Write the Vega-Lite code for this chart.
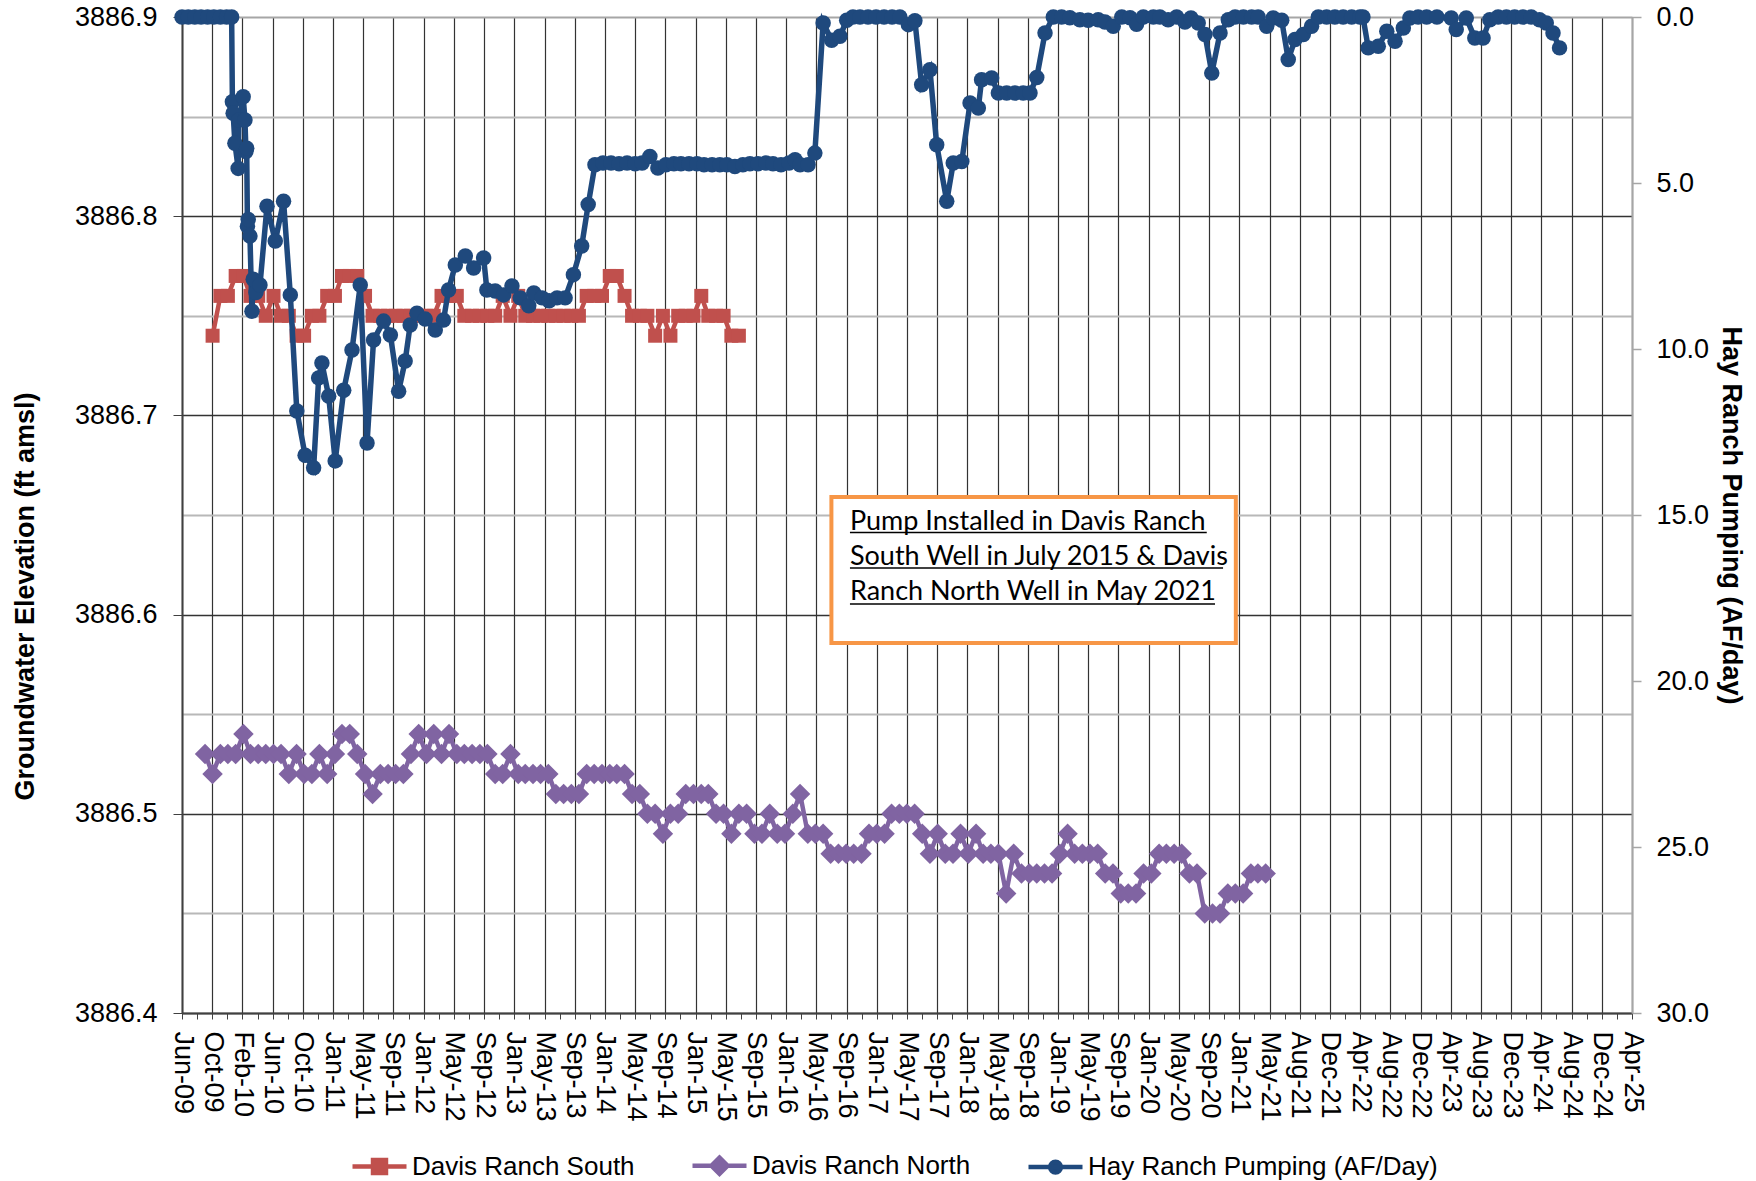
{
"$schema": "https://vega.github.io/schema/vega-lite/v6.json",
"width": 1450, "height": 996, "autosize": "none",
"padding": {"left": 182, "top": 17, "right": 124, "bottom": 168},
"config": {"view": {"stroke": null}, "font": "Liberation Sans"},
"datasets": {
"levels": [
{"series":"Davis Ranch South","date":"2009-10-15","value":3886.74},{"series":"Davis Ranch South","date":"2009-11-15","value":3886.76},{"series":"Davis Ranch South","date":"2009-12-15","value":3886.76},{"series":"Davis Ranch South","date":"2010-01-15","value":3886.77},{"series":"Davis Ranch South","date":"2010-02-15","value":3886.77},{"series":"Davis Ranch South","date":"2010-03-15","value":3886.76},{"series":"Davis Ranch South","date":"2010-04-15","value":3886.76},{"series":"Davis Ranch South","date":"2010-05-15","value":3886.75},{"series":"Davis Ranch South","date":"2010-06-15","value":3886.76},{"series":"Davis Ranch South","date":"2010-07-15","value":3886.75},{"series":"Davis Ranch South","date":"2010-08-15","value":3886.75},{"series":"Davis Ranch South","date":"2010-09-15","value":3886.74},{"series":"Davis Ranch South","date":"2010-10-15","value":3886.74},{"series":"Davis Ranch South","date":"2010-11-15","value":3886.75},{"series":"Davis Ranch South","date":"2010-12-15","value":3886.75},{"series":"Davis Ranch South","date":"2011-01-15","value":3886.76},{"series":"Davis Ranch South","date":"2011-02-15","value":3886.76},{"series":"Davis Ranch South","date":"2011-03-15","value":3886.77},{"series":"Davis Ranch South","date":"2011-04-15","value":3886.77},{"series":"Davis Ranch South","date":"2011-05-15","value":3886.77},{"series":"Davis Ranch South","date":"2011-06-15","value":3886.76},{"series":"Davis Ranch South","date":"2011-07-15","value":3886.75},{"series":"Davis Ranch South","date":"2011-08-15","value":3886.75},{"series":"Davis Ranch South","date":"2011-09-15","value":3886.75},{"series":"Davis Ranch South","date":"2011-10-15","value":3886.75},{"series":"Davis Ranch South","date":"2011-11-15","value":3886.75},{"series":"Davis Ranch South","date":"2011-12-15","value":3886.75},{"series":"Davis Ranch South","date":"2012-01-15","value":3886.75},{"series":"Davis Ranch South","date":"2012-02-15","value":3886.75},{"series":"Davis Ranch South","date":"2012-03-15","value":3886.75},{"series":"Davis Ranch South","date":"2012-04-15","value":3886.76},{"series":"Davis Ranch South","date":"2012-05-15","value":3886.76},{"series":"Davis Ranch South","date":"2012-06-15","value":3886.76},{"series":"Davis Ranch South","date":"2012-07-15","value":3886.75},{"series":"Davis Ranch South","date":"2012-08-15","value":3886.75},{"series":"Davis Ranch South","date":"2012-09-15","value":3886.75},{"series":"Davis Ranch South","date":"2012-10-15","value":3886.75},{"series":"Davis Ranch South","date":"2012-11-15","value":3886.75},{"series":"Davis Ranch South","date":"2012-12-15","value":3886.76},{"series":"Davis Ranch South","date":"2013-01-15","value":3886.75},{"series":"Davis Ranch South","date":"2013-02-15","value":3886.76},{"series":"Davis Ranch South","date":"2013-03-15","value":3886.75},{"series":"Davis Ranch South","date":"2013-04-15","value":3886.75},{"series":"Davis Ranch South","date":"2013-05-15","value":3886.75},{"series":"Davis Ranch South","date":"2013-06-15","value":3886.75},{"series":"Davis Ranch South","date":"2013-07-15","value":3886.75},{"series":"Davis Ranch South","date":"2013-08-15","value":3886.75},{"series":"Davis Ranch South","date":"2013-09-15","value":3886.75},{"series":"Davis Ranch South","date":"2013-10-15","value":3886.75},{"series":"Davis Ranch South","date":"2013-11-15","value":3886.76},{"series":"Davis Ranch South","date":"2013-12-15","value":3886.76},{"series":"Davis Ranch South","date":"2014-01-15","value":3886.76},{"series":"Davis Ranch South","date":"2014-02-15","value":3886.77},{"series":"Davis Ranch South","date":"2014-03-15","value":3886.77},{"series":"Davis Ranch South","date":"2014-04-15","value":3886.76},{"series":"Davis Ranch South","date":"2014-05-15","value":3886.75},{"series":"Davis Ranch South","date":"2014-06-15","value":3886.75},{"series":"Davis Ranch South","date":"2014-07-15","value":3886.75},{"series":"Davis Ranch South","date":"2014-08-15","value":3886.74},{"series":"Davis Ranch South","date":"2014-09-15","value":3886.75},{"series":"Davis Ranch South","date":"2014-10-15","value":3886.74},{"series":"Davis Ranch South","date":"2014-11-15","value":3886.75},{"series":"Davis Ranch South","date":"2014-12-15","value":3886.75},{"series":"Davis Ranch South","date":"2015-01-15","value":3886.75},{"series":"Davis Ranch South","date":"2015-02-15","value":3886.76},{"series":"Davis Ranch South","date":"2015-03-15","value":3886.75},{"series":"Davis Ranch South","date":"2015-04-15","value":3886.75},{"series":"Davis Ranch South","date":"2015-05-15","value":3886.75},{"series":"Davis Ranch South","date":"2015-06-15","value":3886.74},{"series":"Davis Ranch South","date":"2015-07-15","value":3886.74},
{"series":"Davis Ranch North","date":"2009-09-15","value":3886.53},{"series":"Davis Ranch North","date":"2009-10-15","value":3886.52},{"series":"Davis Ranch North","date":"2009-11-15","value":3886.53},{"series":"Davis Ranch North","date":"2009-12-15","value":3886.53},{"series":"Davis Ranch North","date":"2010-01-15","value":3886.53},{"series":"Davis Ranch North","date":"2010-02-15","value":3886.54},{"series":"Davis Ranch North","date":"2010-03-15","value":3886.53},{"series":"Davis Ranch North","date":"2010-04-15","value":3886.53},{"series":"Davis Ranch North","date":"2010-05-15","value":3886.53},{"series":"Davis Ranch North","date":"2010-06-15","value":3886.53},{"series":"Davis Ranch North","date":"2010-07-15","value":3886.53},{"series":"Davis Ranch North","date":"2010-08-15","value":3886.52},{"series":"Davis Ranch North","date":"2010-09-15","value":3886.53},{"series":"Davis Ranch North","date":"2010-10-15","value":3886.52},{"series":"Davis Ranch North","date":"2010-11-15","value":3886.52},{"series":"Davis Ranch North","date":"2010-12-15","value":3886.53},{"series":"Davis Ranch North","date":"2011-01-15","value":3886.52},{"series":"Davis Ranch North","date":"2011-02-15","value":3886.53},{"series":"Davis Ranch North","date":"2011-03-15","value":3886.54},{"series":"Davis Ranch North","date":"2011-04-15","value":3886.54},{"series":"Davis Ranch North","date":"2011-05-15","value":3886.53},{"series":"Davis Ranch North","date":"2011-06-15","value":3886.52},{"series":"Davis Ranch North","date":"2011-07-15","value":3886.51},{"series":"Davis Ranch North","date":"2011-08-15","value":3886.52},{"series":"Davis Ranch North","date":"2011-09-15","value":3886.52},{"series":"Davis Ranch North","date":"2011-10-15","value":3886.52},{"series":"Davis Ranch North","date":"2011-11-15","value":3886.52},{"series":"Davis Ranch North","date":"2011-12-15","value":3886.53},{"series":"Davis Ranch North","date":"2012-01-15","value":3886.54},{"series":"Davis Ranch North","date":"2012-02-15","value":3886.53},{"series":"Davis Ranch North","date":"2012-03-15","value":3886.54},{"series":"Davis Ranch North","date":"2012-04-15","value":3886.53},{"series":"Davis Ranch North","date":"2012-05-15","value":3886.54},{"series":"Davis Ranch North","date":"2012-06-15","value":3886.53},{"series":"Davis Ranch North","date":"2012-07-15","value":3886.53},{"series":"Davis Ranch North","date":"2012-08-15","value":3886.53},{"series":"Davis Ranch North","date":"2012-09-15","value":3886.53},{"series":"Davis Ranch North","date":"2012-10-15","value":3886.53},{"series":"Davis Ranch North","date":"2012-11-15","value":3886.52},{"series":"Davis Ranch North","date":"2012-12-15","value":3886.52},{"series":"Davis Ranch North","date":"2013-01-15","value":3886.53},{"series":"Davis Ranch North","date":"2013-02-15","value":3886.52},{"series":"Davis Ranch North","date":"2013-03-15","value":3886.52},{"series":"Davis Ranch North","date":"2013-04-15","value":3886.52},{"series":"Davis Ranch North","date":"2013-05-15","value":3886.52},{"series":"Davis Ranch North","date":"2013-06-15","value":3886.52},{"series":"Davis Ranch North","date":"2013-07-15","value":3886.51},{"series":"Davis Ranch North","date":"2013-08-15","value":3886.51},{"series":"Davis Ranch North","date":"2013-09-15","value":3886.51},{"series":"Davis Ranch North","date":"2013-10-15","value":3886.51},{"series":"Davis Ranch North","date":"2013-11-15","value":3886.52},{"series":"Davis Ranch North","date":"2013-12-15","value":3886.52},{"series":"Davis Ranch North","date":"2014-01-15","value":3886.52},{"series":"Davis Ranch North","date":"2014-02-15","value":3886.52},{"series":"Davis Ranch North","date":"2014-03-15","value":3886.52},{"series":"Davis Ranch North","date":"2014-04-15","value":3886.52},{"series":"Davis Ranch North","date":"2014-05-15","value":3886.51},{"series":"Davis Ranch North","date":"2014-06-15","value":3886.51},{"series":"Davis Ranch North","date":"2014-07-15","value":3886.50},{"series":"Davis Ranch North","date":"2014-08-15","value":3886.50},{"series":"Davis Ranch North","date":"2014-09-15","value":3886.49},{"series":"Davis Ranch North","date":"2014-10-15","value":3886.50},{"series":"Davis Ranch North","date":"2014-11-15","value":3886.50},{"series":"Davis Ranch North","date":"2014-12-15","value":3886.51},{"series":"Davis Ranch North","date":"2015-01-15","value":3886.51},{"series":"Davis Ranch North","date":"2015-02-15","value":3886.51},{"series":"Davis Ranch North","date":"2015-03-15","value":3886.51},{"series":"Davis Ranch North","date":"2015-04-15","value":3886.50},{"series":"Davis Ranch North","date":"2015-05-15","value":3886.50},{"series":"Davis Ranch North","date":"2015-06-15","value":3886.49},{"series":"Davis Ranch North","date":"2015-07-15","value":3886.50},{"series":"Davis Ranch North","date":"2015-08-15","value":3886.50},{"series":"Davis Ranch North","date":"2015-09-15","value":3886.49},{"series":"Davis Ranch North","date":"2015-10-15","value":3886.49},{"series":"Davis Ranch North","date":"2015-11-15","value":3886.50},{"series":"Davis Ranch North","date":"2015-12-15","value":3886.49},{"series":"Davis Ranch North","date":"2016-01-15","value":3886.49},{"series":"Davis Ranch North","date":"2016-02-15","value":3886.50},{"series":"Davis Ranch North","date":"2016-03-15","value":3886.51},{"series":"Davis Ranch North","date":"2016-04-15","value":3886.49},{"series":"Davis Ranch North","date":"2016-05-15","value":3886.49},{"series":"Davis Ranch North","date":"2016-06-15","value":3886.49},{"series":"Davis Ranch North","date":"2016-07-15","value":3886.48},{"series":"Davis Ranch North","date":"2016-08-15","value":3886.48},{"series":"Davis Ranch North","date":"2016-09-15","value":3886.48},{"series":"Davis Ranch North","date":"2016-10-15","value":3886.48},{"series":"Davis Ranch North","date":"2016-11-15","value":3886.48},{"series":"Davis Ranch North","date":"2016-12-15","value":3886.49},{"series":"Davis Ranch North","date":"2017-01-15","value":3886.49},{"series":"Davis Ranch North","date":"2017-02-15","value":3886.49},{"series":"Davis Ranch North","date":"2017-03-15","value":3886.50},{"series":"Davis Ranch North","date":"2017-04-15","value":3886.50},{"series":"Davis Ranch North","date":"2017-05-15","value":3886.50},{"series":"Davis Ranch North","date":"2017-06-15","value":3886.50},{"series":"Davis Ranch North","date":"2017-07-15","value":3886.49},{"series":"Davis Ranch North","date":"2017-08-15","value":3886.48},{"series":"Davis Ranch North","date":"2017-09-15","value":3886.49},{"series":"Davis Ranch North","date":"2017-10-15","value":3886.48},{"series":"Davis Ranch North","date":"2017-11-15","value":3886.48},{"series":"Davis Ranch North","date":"2017-12-15","value":3886.49},{"series":"Davis Ranch North","date":"2018-01-15","value":3886.48},{"series":"Davis Ranch North","date":"2018-02-15","value":3886.49},{"series":"Davis Ranch North","date":"2018-03-15","value":3886.48},{"series":"Davis Ranch North","date":"2018-04-15","value":3886.48},{"series":"Davis Ranch North","date":"2018-05-15","value":3886.48},{"series":"Davis Ranch North","date":"2018-06-15","value":3886.46},{"series":"Davis Ranch North","date":"2018-07-15","value":3886.48},{"series":"Davis Ranch North","date":"2018-08-15","value":3886.47},{"series":"Davis Ranch North","date":"2018-09-15","value":3886.47},{"series":"Davis Ranch North","date":"2018-10-15","value":3886.47},{"series":"Davis Ranch North","date":"2018-11-15","value":3886.47},{"series":"Davis Ranch North","date":"2018-12-15","value":3886.47},{"series":"Davis Ranch North","date":"2019-01-15","value":3886.48},{"series":"Davis Ranch North","date":"2019-02-15","value":3886.49},{"series":"Davis Ranch North","date":"2019-03-15","value":3886.48},{"series":"Davis Ranch North","date":"2019-04-15","value":3886.48},{"series":"Davis Ranch North","date":"2019-05-15","value":3886.48},{"series":"Davis Ranch North","date":"2019-06-15","value":3886.48},{"series":"Davis Ranch North","date":"2019-07-15","value":3886.47},{"series":"Davis Ranch North","date":"2019-08-15","value":3886.47},{"series":"Davis Ranch North","date":"2019-09-15","value":3886.46},{"series":"Davis Ranch North","date":"2019-10-15","value":3886.46},{"series":"Davis Ranch North","date":"2019-11-15","value":3886.46},{"series":"Davis Ranch North","date":"2019-12-15","value":3886.47},{"series":"Davis Ranch North","date":"2020-01-15","value":3886.47},{"series":"Davis Ranch North","date":"2020-02-15","value":3886.48},{"series":"Davis Ranch North","date":"2020-03-15","value":3886.48},{"series":"Davis Ranch North","date":"2020-04-15","value":3886.48},{"series":"Davis Ranch North","date":"2020-05-15","value":3886.48},{"series":"Davis Ranch North","date":"2020-06-15","value":3886.47},{"series":"Davis Ranch North","date":"2020-07-15","value":3886.47},{"series":"Davis Ranch North","date":"2020-08-15","value":3886.45},{"series":"Davis Ranch North","date":"2020-09-15","value":3886.45},{"series":"Davis Ranch North","date":"2020-10-15","value":3886.45},{"series":"Davis Ranch North","date":"2020-11-15","value":3886.46},{"series":"Davis Ranch North","date":"2020-12-15","value":3886.46},{"series":"Davis Ranch North","date":"2021-01-15","value":3886.46},{"series":"Davis Ranch North","date":"2021-02-15","value":3886.47},{"series":"Davis Ranch North","date":"2021-03-15","value":3886.47},{"series":"Davis Ranch North","date":"2021-04-15","value":3886.47},
{"series":"Hay Ranch Pumping (AF/Day)","date":"2009-06-15","value":0},{"series":"Hay Ranch Pumping (AF/Day)","date":"2009-07-10","value":0},{"series":"Hay Ranch Pumping (AF/Day)","date":"2009-08-05","value":0},{"series":"Hay Ranch Pumping (AF/Day)","date":"2009-08-30","value":0},{"series":"Hay Ranch Pumping (AF/Day)","date":"2009-09-25","value":0},{"series":"Hay Ranch Pumping (AF/Day)","date":"2009-10-20","value":0},{"series":"Hay Ranch Pumping (AF/Day)","date":"2009-11-15","value":0},{"series":"Hay Ranch Pumping (AF/Day)","date":"2009-12-10","value":0},{"series":"Hay Ranch Pumping (AF/Day)","date":"2009-12-30","value":0},
{"series":"Hay Ranch Pumping (AF/Day)","date":"2010-01-02","value":2.55},{"series":"Hay Ranch Pumping (AF/Day)","date":"2010-01-05","value":2.9},{"series":"Hay Ranch Pumping (AF/Day)","date":"2010-01-12","value":3.8},{"series":"Hay Ranch Pumping (AF/Day)","date":"2010-01-25","value":4.56},{"series":"Hay Ranch Pumping (AF/Day)","date":"2010-01-28","value":3.1},{"series":"Hay Ranch Pumping (AF/Day)","date":"2010-02-14","value":2.4},{"series":"Hay Ranch Pumping (AF/Day)","date":"2010-02-21","value":3.1},{"series":"Hay Ranch Pumping (AF/Day)","date":"2010-02-25","value":4.05},{"series":"Hay Ranch Pumping (AF/Day)","date":"2010-02-28","value":3.95},{"series":"Hay Ranch Pumping (AF/Day)","date":"2010-03-03","value":6.3},{"series":"Hay Ranch Pumping (AF/Day)","date":"2010-03-06","value":6.1},{"series":"Hay Ranch Pumping (AF/Day)","date":"2010-03-13","value":6.6},{"series":"Hay Ranch Pumping (AF/Day)","date":"2010-03-21","value":8.86},{"series":"Hay Ranch Pumping (AF/Day)","date":"2010-03-26","value":7.9},{"series":"Hay Ranch Pumping (AF/Day)","date":"2010-04-06","value":8.3},{"series":"Hay Ranch Pumping (AF/Day)","date":"2010-04-22","value":8.07},{"series":"Hay Ranch Pumping (AF/Day)","date":"2010-05-20","value":5.7},{"series":"Hay Ranch Pumping (AF/Day)","date":"2010-06-22","value":6.75},{"series":"Hay Ranch Pumping (AF/Day)","date":"2010-07-25","value":5.55},{"series":"Hay Ranch Pumping (AF/Day)","date":"2010-08-21","value":8.37},{"series":"Hay Ranch Pumping (AF/Day)","date":"2010-09-16","value":11.87},{"series":"Hay Ranch Pumping (AF/Day)","date":"2010-10-19","value":13.2},{"series":"Hay Ranch Pumping (AF/Day)","date":"2010-11-22","value":13.58},{"series":"Hay Ranch Pumping (AF/Day)","date":"2010-12-12","value":10.87},{"series":"Hay Ranch Pumping (AF/Day)","date":"2010-12-25","value":10.42},
{"series":"Hay Ranch Pumping (AF/Day)","date":"2011-01-21","value":11.42},{"series":"Hay Ranch Pumping (AF/Day)","date":"2011-02-16","value":13.37},{"series":"Hay Ranch Pumping (AF/Day)","date":"2011-03-22","value":11.24},{"series":"Hay Ranch Pumping (AF/Day)","date":"2011-04-24","value":10.03},{"series":"Hay Ranch Pumping (AF/Day)","date":"2011-05-27","value":8.07},{"series":"Hay Ranch Pumping (AF/Day)","date":"2011-06-23","value":12.83},{"series":"Hay Ranch Pumping (AF/Day)","date":"2011-07-19","value":9.73},{"series":"Hay Ranch Pumping (AF/Day)","date":"2011-08-28","value":9.16},{"series":"Hay Ranch Pumping (AF/Day)","date":"2011-09-24","value":9.58},{"series":"Hay Ranch Pumping (AF/Day)","date":"2011-10-27","value":11.27},{"series":"Hay Ranch Pumping (AF/Day)","date":"2011-11-22","value":10.36},{"series":"Hay Ranch Pumping (AF/Day)","date":"2011-12-12","value":9.28},
{"series":"Hay Ranch Pumping (AF/Day)","date":"2012-01-08","value":8.92},{"series":"Hay Ranch Pumping (AF/Day)","date":"2012-02-10","value":9.1},{"series":"Hay Ranch Pumping (AF/Day)","date":"2012-03-21","value":9.43},{"series":"Hay Ranch Pumping (AF/Day)","date":"2012-04-23","value":9.13},{"series":"Hay Ranch Pumping (AF/Day)","date":"2012-05-13","value":8.22},{"series":"Hay Ranch Pumping (AF/Day)","date":"2012-06-09","value":7.47},{"series":"Hay Ranch Pumping (AF/Day)","date":"2012-07-19","value":7.2},{"series":"Hay Ranch Pumping (AF/Day)","date":"2012-08-21","value":7.56},{"series":"Hay Ranch Pumping (AF/Day)","date":"2012-09-30","value":7.26},{"series":"Hay Ranch Pumping (AF/Day)","date":"2012-10-13","value":8.22},{"series":"Hay Ranch Pumping (AF/Day)","date":"2012-11-15","value":8.25},{"series":"Hay Ranch Pumping (AF/Day)","date":"2012-12-19","value":8.37},
{"series":"Hay Ranch Pumping (AF/Day)","date":"2013-01-21","value":8.1},{"series":"Hay Ranch Pumping (AF/Day)","date":"2013-02-23","value":8.46},{"series":"Hay Ranch Pumping (AF/Day)","date":"2013-03-29","value":8.7},{"series":"Hay Ranch Pumping (AF/Day)","date":"2013-04-18","value":8.31},{"series":"Hay Ranch Pumping (AF/Day)","date":"2013-05-21","value":8.46},{"series":"Hay Ranch Pumping (AF/Day)","date":"2013-06-18","value":8.55},{"series":"Hay Ranch Pumping (AF/Day)","date":"2013-07-20","value":8.46},{"series":"Hay Ranch Pumping (AF/Day)","date":"2013-08-21","value":8.46},{"series":"Hay Ranch Pumping (AF/Day)","date":"2013-09-23","value":7.76},{"series":"Hay Ranch Pumping (AF/Day)","date":"2013-10-26","value":6.9},{"series":"Hay Ranch Pumping (AF/Day)","date":"2013-11-21","value":5.65},{"series":"Hay Ranch Pumping (AF/Day)","date":"2013-12-18","value":4.45},
{"series":"Hay Ranch Pumping (AF/Day)","date":"2014-01-19","value":4.4},{"series":"Hay Ranch Pumping (AF/Day)","date":"2014-02-20","value":4.4},{"series":"Hay Ranch Pumping (AF/Day)","date":"2014-03-24","value":4.42},{"series":"Hay Ranch Pumping (AF/Day)","date":"2014-04-25","value":4.4},{"series":"Hay Ranch Pumping (AF/Day)","date":"2014-05-27","value":4.42},{"series":"Hay Ranch Pumping (AF/Day)","date":"2014-06-24","value":4.4},{"series":"Hay Ranch Pumping (AF/Day)","date":"2014-07-25","value":4.2},{"series":"Hay Ranch Pumping (AF/Day)","date":"2014-08-26","value":4.55},{"series":"Hay Ranch Pumping (AF/Day)","date":"2014-09-27","value":4.45},{"series":"Hay Ranch Pumping (AF/Day)","date":"2014-10-29","value":4.42},{"series":"Hay Ranch Pumping (AF/Day)","date":"2014-11-26","value":4.42},{"series":"Hay Ranch Pumping (AF/Day)","date":"2014-12-28","value":4.42},
{"series":"Hay Ranch Pumping (AF/Day)","date":"2015-01-29","value":4.42},{"series":"Hay Ranch Pumping (AF/Day)","date":"2015-02-26","value":4.45},{"series":"Hay Ranch Pumping (AF/Day)","date":"2015-03-30","value":4.45},{"series":"Hay Ranch Pumping (AF/Day)","date":"2015-04-30","value":4.45},{"series":"Hay Ranch Pumping (AF/Day)","date":"2015-05-28","value":4.45},{"series":"Hay Ranch Pumping (AF/Day)","date":"2015-06-29","value":4.5},{"series":"Hay Ranch Pumping (AF/Day)","date":"2015-07-31","value":4.45},{"series":"Hay Ranch Pumping (AF/Day)","date":"2015-08-28","value":4.42},{"series":"Hay Ranch Pumping (AF/Day)","date":"2015-09-29","value":4.42},{"series":"Hay Ranch Pumping (AF/Day)","date":"2015-10-31","value":4.4},{"series":"Hay Ranch Pumping (AF/Day)","date":"2015-11-28","value":4.42},{"series":"Hay Ranch Pumping (AF/Day)","date":"2015-12-30","value":4.45},
{"series":"Hay Ranch Pumping (AF/Day)","date":"2016-01-31","value":4.4},{"series":"Hay Ranch Pumping (AF/Day)","date":"2016-02-24","value":4.3},{"series":"Hay Ranch Pumping (AF/Day)","date":"2016-03-15","value":4.45},{"series":"Hay Ranch Pumping (AF/Day)","date":"2016-04-16","value":4.45},{"series":"Hay Ranch Pumping (AF/Day)","date":"2016-05-13","value":4.1},{"series":"Hay Ranch Pumping (AF/Day)","date":"2016-06-15","value":0.18},{"series":"Hay Ranch Pumping (AF/Day)","date":"2016-07-19","value":0.7},{"series":"Hay Ranch Pumping (AF/Day)","date":"2016-08-21","value":0.58},{"series":"Hay Ranch Pumping (AF/Day)","date":"2016-09-17","value":0.1},{"series":"Hay Ranch Pumping (AF/Day)","date":"2016-10-12","value":0},{"series":"Hay Ranch Pumping (AF/Day)","date":"2016-11-09","value":0},{"series":"Hay Ranch Pumping (AF/Day)","date":"2016-12-11","value":0},
{"series":"Hay Ranch Pumping (AF/Day)","date":"2017-01-12","value":0},{"series":"Hay Ranch Pumping (AF/Day)","date":"2017-02-13","value":0},{"series":"Hay Ranch Pumping (AF/Day)","date":"2017-03-17","value":0},{"series":"Hay Ranch Pumping (AF/Day)","date":"2017-04-17","value":0},{"series":"Hay Ranch Pumping (AF/Day)","date":"2017-05-21","value":0.23},{"series":"Hay Ranch Pumping (AF/Day)","date":"2017-06-16","value":0.11},{"series":"Hay Ranch Pumping (AF/Day)","date":"2017-07-13","value":2.04},{"series":"Hay Ranch Pumping (AF/Day)","date":"2017-08-15","value":1.59},{"series":"Hay Ranch Pumping (AF/Day)","date":"2017-09-11","value":3.85},{"series":"Hay Ranch Pumping (AF/Day)","date":"2017-10-21","value":5.55},{"series":"Hay Ranch Pumping (AF/Day)","date":"2017-11-16","value":4.4},{"series":"Hay Ranch Pumping (AF/Day)","date":"2017-12-20","value":4.35},
{"series":"Hay Ranch Pumping (AF/Day)","date":"2018-01-22","value":2.59},{"series":"Hay Ranch Pumping (AF/Day)","date":"2018-02-24","value":2.74},{"series":"Hay Ranch Pumping (AF/Day)","date":"2018-03-09","value":1.89},{"series":"Hay Ranch Pumping (AF/Day)","date":"2018-04-18","value":1.84},{"series":"Hay Ranch Pumping (AF/Day)","date":"2018-05-15","value":2.29},{"series":"Hay Ranch Pumping (AF/Day)","date":"2018-06-17","value":2.29},{"series":"Hay Ranch Pumping (AF/Day)","date":"2018-07-20","value":2.29},{"series":"Hay Ranch Pumping (AF/Day)","date":"2018-08-22","value":2.29},{"series":"Hay Ranch Pumping (AF/Day)","date":"2018-09-18","value":2.29},{"series":"Hay Ranch Pumping (AF/Day)","date":"2018-10-15","value":1.82},{"series":"Hay Ranch Pumping (AF/Day)","date":"2018-11-17","value":0.48},{"series":"Hay Ranch Pumping (AF/Day)","date":"2018-12-20","value":0},
{"series":"Hay Ranch Pumping (AF/Day)","date":"2019-01-22","value":0},{"series":"Hay Ranch Pumping (AF/Day)","date":"2019-02-24","value":0.02},{"series":"Hay Ranch Pumping (AF/Day)","date":"2019-04-05","value":0.08},{"series":"Hay Ranch Pumping (AF/Day)","date":"2019-05-08","value":0.1},{"series":"Hay Ranch Pumping (AF/Day)","date":"2019-06-17","value":0.08},{"series":"Hay Ranch Pumping (AF/Day)","date":"2019-07-14","value":0.15},{"series":"Hay Ranch Pumping (AF/Day)","date":"2019-08-16","value":0.28},{"series":"Hay Ranch Pumping (AF/Day)","date":"2019-09-19","value":0},{"series":"Hay Ranch Pumping (AF/Day)","date":"2019-10-22","value":0.02},{"series":"Hay Ranch Pumping (AF/Day)","date":"2019-11-17","value":0.22},{"series":"Hay Ranch Pumping (AF/Day)","date":"2019-12-14","value":0},
{"series":"Hay Ranch Pumping (AF/Day)","date":"2020-01-23","value":0},{"series":"Hay Ranch Pumping (AF/Day)","date":"2020-02-18","value":0},{"series":"Hay Ranch Pumping (AF/Day)","date":"2020-03-22","value":0.08},{"series":"Hay Ranch Pumping (AF/Day)","date":"2020-04-25","value":0},{"series":"Hay Ranch Pumping (AF/Day)","date":"2020-05-28","value":0.15},{"series":"Hay Ranch Pumping (AF/Day)","date":"2020-06-21","value":0.03},{"series":"Hay Ranch Pumping (AF/Day)","date":"2020-07-20","value":0.18},{"series":"Hay Ranch Pumping (AF/Day)","date":"2020-08-16","value":0.53},{"series":"Hay Ranch Pumping (AF/Day)","date":"2020-09-12","value":1.69},{"series":"Hay Ranch Pumping (AF/Day)","date":"2020-10-15","value":0.48},{"series":"Hay Ranch Pumping (AF/Day)","date":"2020-11-17","value":0.08},{"series":"Hay Ranch Pumping (AF/Day)","date":"2020-12-14","value":0},
{"series":"Hay Ranch Pumping (AF/Day)","date":"2021-01-16","value":0},{"series":"Hay Ranch Pumping (AF/Day)","date":"2021-02-18","value":0},{"series":"Hay Ranch Pumping (AF/Day)","date":"2021-03-16","value":0},{"series":"Hay Ranch Pumping (AF/Day)","date":"2021-04-19","value":0.28},{"series":"Hay Ranch Pumping (AF/Day)","date":"2021-05-15","value":0.03},{"series":"Hay Ranch Pumping (AF/Day)","date":"2021-06-18","value":0.1},{"series":"Hay Ranch Pumping (AF/Day)","date":"2021-07-14","value":1.28},{"series":"Hay Ranch Pumping (AF/Day)","date":"2021-08-10","value":0.68},{"series":"Hay Ranch Pumping (AF/Day)","date":"2021-09-12","value":0.53},{"series":"Hay Ranch Pumping (AF/Day)","date":"2021-10-15","value":0.28},{"series":"Hay Ranch Pumping (AF/Day)","date":"2021-11-11","value":0},{"series":"Hay Ranch Pumping (AF/Day)","date":"2021-12-14","value":0},
{"series":"Hay Ranch Pumping (AF/Day)","date":"2022-01-16","value":0},{"series":"Hay Ranch Pumping (AF/Day)","date":"2022-02-18","value":0},{"series":"Hay Ranch Pumping (AF/Day)","date":"2022-03-24","value":0},{"series":"Hay Ranch Pumping (AF/Day)","date":"2022-04-26","value":0},{"series":"Hay Ranch Pumping (AF/Day)","date":"2022-05-08","value":0},{"series":"Hay Ranch Pumping (AF/Day)","date":"2022-05-29","value":0.93},{"series":"Hay Ranch Pumping (AF/Day)","date":"2022-07-08","value":0.88},{"series":"Hay Ranch Pumping (AF/Day)","date":"2022-08-11","value":0.43},{"series":"Hay Ranch Pumping (AF/Day)","date":"2022-09-13","value":0.73},{"series":"Hay Ranch Pumping (AF/Day)","date":"2022-10-16","value":0.33},{"series":"Hay Ranch Pumping (AF/Day)","date":"2022-11-11","value":0.03},{"series":"Hay Ranch Pumping (AF/Day)","date":"2022-12-14","value":0},
{"series":"Hay Ranch Pumping (AF/Day)","date":"2023-01-17","value":0},{"series":"Hay Ranch Pumping (AF/Day)","date":"2023-02-27","value":0},{"series":"Hay Ranch Pumping (AF/Day)","date":"2023-04-25","value":0.03},{"series":"Hay Ranch Pumping (AF/Day)","date":"2023-05-15","value":0.38},{"series":"Hay Ranch Pumping (AF/Day)","date":"2023-06-24","value":0.03},{"series":"Hay Ranch Pumping (AF/Day)","date":"2023-07-28","value":0.63},{"series":"Hay Ranch Pumping (AF/Day)","date":"2023-08-30","value":0.63},{"series":"Hay Ranch Pumping (AF/Day)","date":"2023-09-26","value":0.08},{"series":"Hay Ranch Pumping (AF/Day)","date":"2023-10-29","value":0},{"series":"Hay Ranch Pumping (AF/Day)","date":"2023-12-01","value":0},
{"series":"Hay Ranch Pumping (AF/Day)","date":"2024-01-03","value":0},{"series":"Hay Ranch Pumping (AF/Day)","date":"2024-02-05","value":0},{"series":"Hay Ranch Pumping (AF/Day)","date":"2024-03-09","value":0},{"series":"Hay Ranch Pumping (AF/Day)","date":"2024-04-11","value":0.08},{"series":"Hay Ranch Pumping (AF/Day)","date":"2024-05-08","value":0.18},{"series":"Hay Ranch Pumping (AF/Day)","date":"2024-06-04","value":0.48},{"series":"Hay Ranch Pumping (AF/Day)","date":"2024-06-30","value":0.93}
],
"note": [{"date": "2016-07-18", "end": "2020-12-17", "value": 3886.659, "value2": 3886.5857}],
"noteText": [{"date": "2016-09-30", "value": 3886.6427, "text": "Pump Installed in Davis Ranch\nSouth Well in July 2015 & Davis\nRanch North Well in May 2021"}],
"underline": [
{"date": "2016-09-30", "end": "2020-08-23", "value": 3886.6412},
{"date": "2016-09-30", "end": "2020-10-27", "value": 3886.6234},
{"date": "2016-09-30", "end": "2020-09-25", "value": 3886.6053}
]
},
"data": {"name": "levels"},
"encoding": {
"x": {"field": "date", "type": "temporal",
 "scale": {"type": "utc", "domain": [1245024000000, 1744675200000], "nice": false},
 "axis": {
  "title": null,
  "values": [1245024000000,1250228700000,1255433400000,1260638100000,1265842800000,1271047500000,1276252200000,1281456900000,1286661600000,1291866300000,1297071000000,1302275700000,1307480400000,1312685100000,1317889800000,1323094500000,1328299200000,1333503900000,1338708600000,1343913300000,1349118000000,1354322700000,1359527400000,1364732100000,1369936800000,1375141500000,1380346200000,1385550900000,1390755600000,1395960300000,1401165000000,1406369700000,1411574400000,1416779100000,1421983800000,1427188500000,1432393200000,1437597900000,1442802600000,1448007300000,1453212000000,1458416700000,1463621400000,1468826100000,1474030800000,1479235500000,1484440200000,1489644900000,1494849600000,1500054300000,1505259000000,1510463700000,1515668400000,1520873100000,1526077800000,1531282500000,1536487200000,1541691900000,1546896600000,1552101300000,1557306000000,1562510700000,1567715400000,1572920100000,1578124800000,1583329500000,1588534200000,1593738900000,1598943600000,1604148300000,1609353000000,1614557700000,1619762400000,1624967100000,1630171800000,1635376500000,1640581200000,1645785900000,1650990600000,1656195300000,1661400000000,1666604700000,1671809400000,1677014100000,1682218800000,1687423500000,1692628200000,1697832900000,1703037600000,1708242300000,1713447000000,1718651700000,1723856400000,1729061100000,1734265800000,1739470500000,1744675200000],
  "labelExpr": "round((toNumber(datum.value) - 1245024000000) / 5204700000) % 2 == 1 ? '' : ['Jun-09','Oct-09','Feb-10','Jun-10','Oct-10','Jan-11','May-11','Sep-11','Jan-12','May-12','Sep-12','Jan-13','May-13','Sep-13','Jan-14','May-14','Sep-14','Jan-15','May-15','Sep-15','Jan-16','May-16','Sep-16','Jan-17','May-17','Sep-17','Jan-18','May-18','Sep-18','Jan-19','May-19','Sep-19','Jan-20','May-20','Sep-20','Jan-21','May-21','Aug-21','Dec-21','Apr-22','Aug-22','Dec-22','Apr-23','Aug-23','Dec-23','Apr-24','Aug-24','Dec-24','Apr-25'][round((toNumber(datum.value) - 1245024000000) / 10409400000)]",
  "labelAngle": 90, "labelAlign": "left", "labelBaseline": "middle",
  "labelFont": "Liberation Sans", "labelFontSize": 27, "labelColor": "black", "labelPadding": 12,
  "labelOverlap": false, "labelFlush": false, "labelBound": false,
  "tickSize": 6, "tickColor": "#404040", "tickWidth": 1,
  "domainColor": "#404040", "domainWidth": 2,
  "grid": true, "gridColor": "#333333", "gridWidth": 1.2,
  "gridOpacity": {"condition": {"test": "round((toNumber(datum.value) - 1245024000000) / 5204700000) % 2 == 1", "value": 0}, "value": 1}
 }},
"color": {"field": "series", "type": "nominal",
 "scale": {"domain": ["Davis Ranch South", "Davis Ranch North", "Hay Ranch Pumping (AF/Day)"], "range": ["#C0504D", "#8064A2", "#1F497D"]},
 "legend": {
  "title": null, "orient": "none", "legendX": 168, "legendY": 1119, "direction": "horizontal",
  "padding": 0, "labelFont": "Liberation Sans", "labelFontSize": 26, "labelColor": "black", "labelLimit": 0,
  "labelOffset": 3, "columnPadding": 48, "symbolSize": 2916, "symbolStrokeWidth": 4.5, "symbolOpacity": 1,
  "encode": {"symbols": {"update": {
   "shape": {"signal": "datum.value === 'Davis Ranch South' ? 'M-1,0H1M-0.24,-0.24H0.24V0.24H-0.24Z' : (datum.value === 'Davis Ranch North' ? 'M-1,0H1M0,-0.3L0.3,0L0,0.3L-0.3,0Z' : 'M-1,0H1M-0.2,0A0.2,0.2,0,1,0,0.2,0A0.2,0.2,0,1,0,-0.2,0Z')"},
   "fill": {"scale": "color", "field": "value"},
   "stroke": {"scale": "color", "field": "value"},
   "strokeWidth": {"value": 4.5},
   "opacity": {"value": 1}
  }}}
 }}
},
"layer": [
{
 "transform": [{"filter": "datum.series !== 'Hay Ranch Pumping (AF/Day)'"}],
 "encoding": {"y": {"field": "value", "type": "quantitative",
  "scale": {"domain": [3886.4, 3886.9], "nice": false, "zero": false},
  "axis": {
   "title": "Groundwater Elevation (ft amsl)",
   "titleFont": "Liberation Sans", "titleFontSize": 27, "titleFontWeight": "bold", "titleColor": "black",
   "titleX": -157, "titleY": 579, "titleAlign": "center", "titleBaseline": "middle", "titleAngle": -90,
   "values": [3886.4, 3886.45, 3886.5, 3886.55, 3886.6, 3886.65, 3886.7, 3886.75, 3886.8, 3886.85, 3886.9],
   "labelExpr": "round(datum.value * 20) % 2 == 1 ? '' : format(datum.value, '.1f')",
   "labelFont": "Liberation Sans", "labelFontSize": 27, "labelColor": "black", "labelPadding": 16,
   "labelOverlap": false, "labelFlush": false, "labelBound": false,
   "tickSize": 9, "tickColor": "#404040",
   "tickOpacity": {"condition": {"test": "round(datum.value * 20) % 2 == 1", "value": 0}, "value": 1},
   "domainColor": "#404040", "domainWidth": 2,
   "grid": true,
   "gridColor": {"condition": [{"test": "datum.value > 3886.89", "value": "#a6a6a6"}, {"test": "round(datum.value * 20) % 2 == 1", "value": "#b8b8b8"}], "value": "#333333"},
   "gridWidth": {"condition": {"test": "round(datum.value * 20) % 2 == 1 || datum.value > 3886.89", "value": 2}, "value": 1.3}
  }}},
 "layer": [
  {"mark": {"type": "line", "strokeWidth": 4.5}},
  {"transform": [{"filter": "datum.series === 'Davis Ranch South'"}], "mark": {"type": "point", "shape": "square", "filled": true, "size": 196, "opacity": 1}},
  {"transform": [{"filter": "datum.series === 'Davis Ranch North'"}], "mark": {"type": "point", "shape": "diamond", "filled": true, "size": 420, "opacity": 1}},
  {"data": {"name": "note"}, "mark": {"type": "rect", "stroke": "#F79646", "strokeWidth": 4},
   "encoding": {"x2": {"field": "end"}, "y2": {"field": "value2"}, "color": {"value": "white"}}},
  {"data": {"name": "noteText"}, "mark": {"type": "text", "align": "left", "baseline": "alphabetic", "font": "Lato", "fontSize": 27, "lineHeight": 35, "lineBreak": "\n"},
   "encoding": {"text": {"field": "text"}, "color": {"value": "black"}}},
  {"data": {"name": "underline"}, "mark": {"type": "rule", "strokeWidth": 1.6},
   "encoding": {"x2": {"field": "end"}, "color": {"value": "black"}}}
 ]
},
{
 "transform": [{"filter": "datum.series === 'Hay Ranch Pumping (AF/Day)'"}],
 "encoding": {"y": {"field": "value", "type": "quantitative",
  "scale": {"domain": [0, 30], "reverse": true, "nice": false, "zero": false},
  "axis": {
   "orient": "right",
   "title": "Hay Ranch Pumping (AF/day)",
   "titleFont": "Liberation Sans", "titleFontSize": 27, "titleFontWeight": "bold", "titleColor": "black",
   "titleX": 98, "titleY": 498, "titleAlign": "center", "titleBaseline": "middle", "titleAngle": 90,
   "values": [0, 5, 10, 15, 20, 25, 30], "format": ".1f",
   "labelFont": "Liberation Sans", "labelFontSize": 27, "labelColor": "black", "labelPadding": 15,
   "labelOverlap": false, "labelFlush": false, "labelBound": false,
   "tickSize": 9, "tickColor": "#a6a6a6", "tickWidth": 1.5,
   "domainColor": "#a6a6a6", "domainWidth": 2,
   "grid": false
  }}},
 "layer": [
  {"mark": {"type": "line", "strokeWidth": 5.5}},
  {"mark": {"type": "point", "shape": "circle", "filled": true, "size": 240, "opacity": 1}}
 ]
}
],
"resolve": {"scale": {"y": "independent"}}
}
